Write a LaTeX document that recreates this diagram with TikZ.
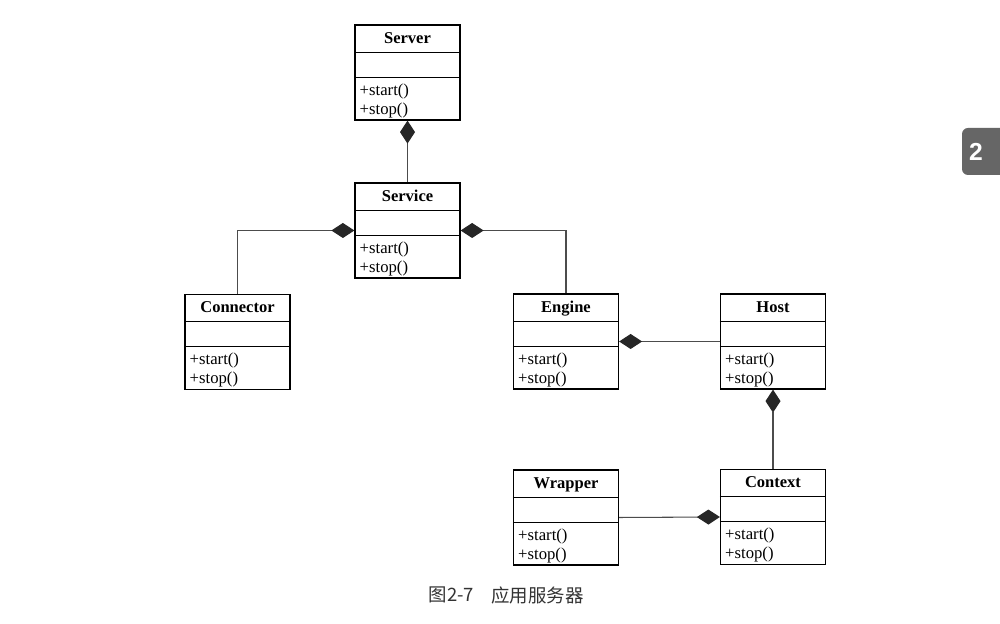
\documentclass[tikz,border=0pt]{standalone}
\usepackage{fontspec}
\setmainfont{Liberation Serif}
\newfontfamily\cjk{Noto Sans CJK SC}
\newfontfamily\tabfont{Liberation Sans}
\usetikzlibrary{arrows.meta, positioning}

\tikzset{
  cls/.style={draw, line width=0.7pt, minimum width=2.1cm, minimum height=1.9cm, inner sep=0pt},
  op/.style={anchor=base west, inner sep=0pt, font=\fontsize{9.5}{10.8}\selectfont},
  comp/.style={draw=black!70, line width=0.6pt, {Diamond[length=0.46cm, width=0.3cm, fill=black!85, color=black!85]}-}
}
\newcommand{\umlclass}[3]{%
  \node[cls] (#1) at (#2) {};
  \draw[line width=0.7pt] ([yshift=-0.56cm]#1.north west) -- ([yshift=-0.56cm]#1.north east);
  \draw[line width=0.7pt] ([yshift=-1.06cm]#1.north west) -- ([yshift=-1.06cm]#1.north east);
  \node[anchor=base, font=\bfseries\fontsize{9.4}{11}\selectfont, inner sep=0pt] (#1-name) at ([yshift=-0.38cm]#1.north) {#3};
  \node[op] (#1-start) at ([xshift=0.1cm, yshift=-1.42cm]#1.north west) {+start()};
  \node[op] (#1-stop) at ([xshift=0.1cm, yshift=-1.8cm]#1.north west) {+stop()};
}

\begin{document}
\begin{tikzpicture}
  \useasboundingbox[fill=white] (0,0) rectangle (20,12.48);
  \umlclass{server}{8.15,11.03}{Server}
  \umlclass{service}{8.15,7.87}{Service}
  \umlclass{connector}{4.75,5.64}{Connector}
  \umlclass{engine}{11.32,5.65}{Engine}
  \umlclass{host}{15.46,5.65}{Host}
  \umlclass{wrapper}{11.32,2.13}{Wrapper}
  \umlclass{context}{15.46,2.14}{Context}
  \draw[comp] (server.south) -- (service.north);
  \draw[comp] (service.west) -| (connector.north);
  \draw[comp] (service.east) -| (engine.north);
  \draw[comp] (engine.east) -- (host.west);
  \draw[comp] (host.south) -- (context.north);
  \draw[comp] (context.west) -- (wrapper.east);
  \node[font=\cjk\fontsize{10.5}{12}\selectfont, text=black!80] (fig-no) at (9.03,0.58) {图2-7};
  \node[font=\cjk\fontsize{10.5}{12}\selectfont, text=black!80] (fig-title) at (10.75,0.58) {应用服务器};
  \fill[black!60, rounded corners=0.12cm] (19.24,9.92) rectangle (20.4,8.98);
  \node[text=white, font=\tabfont\bfseries\fontsize{14}{16}\selectfont] (tab) at (19.52,9.45) {2};
\end{tikzpicture}
\end{document}
